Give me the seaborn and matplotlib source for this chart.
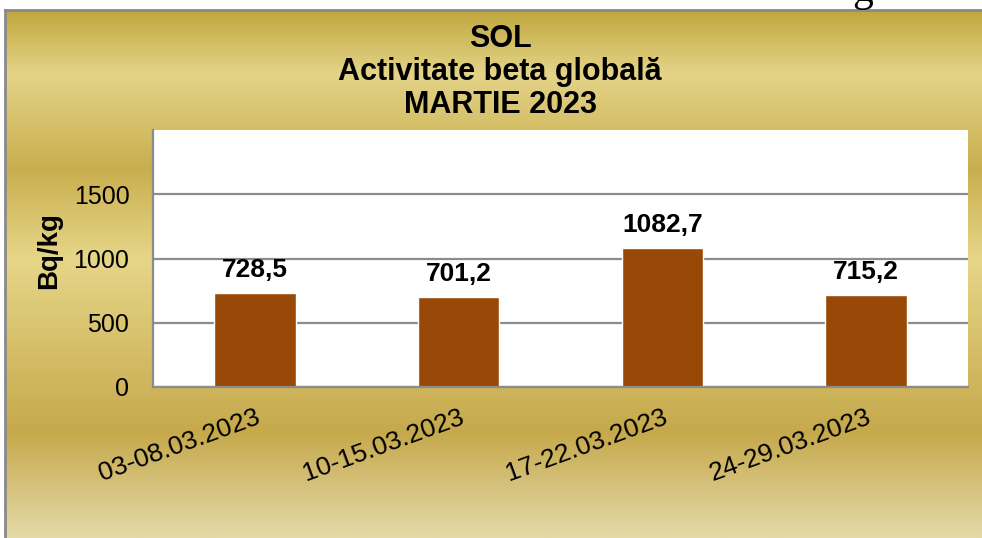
import numpy as np
import matplotlib
matplotlib.use('Agg')
import matplotlib.pyplot as plt
import matplotlib.colors as mcolors
import seaborn as sns

# data
categories = ['03-08.03.2023', '10-15.03.2023', '17-22.03.2023', '24-29.03.2023']
activity = [728.5, 701.2, 1082.7, 715.2]
value_labels = [f'{v:.1f}'.replace('.', ',') for v in activity]
yticks = [0, 500, 1000, 1500]

sns.set_style('white')
plt.rcParams['font.family'] = ['Liberation Sans', 'DejaVu Sans']
plt.rcParams['text.color'] = 'black'
plt.rcParams['xtick.color'] = 'black'
plt.rcParams['ytick.color'] = 'black'
plt.rcParams['axes.labelcolor'] = 'black'

W, H = 982, 538
fig = plt.figure(figsize=(W / 100, H / 100), dpi=100)
fig.patch.set_facecolor('white')

# gold gradient panel
bg = fig.add_axes([5 / W, 0, 1 - 5 / W, 1 - 10 / H], zorder=0)
stops = [(0.0, '#c0a73e'), (0.12, '#e4d488'), (0.30, '#c9ae4f'), (0.47, '#e6d688'),
         (0.80, '#c6a94c'), (1.0, '#e4d9a8')]
cmap = mcolors.LinearSegmentedColormap.from_list('gold', stops)
grad = np.linspace(0, 1, 256).reshape(-1, 1)
bg.imshow(grad, aspect='auto', cmap=cmap, extent=[0, 1, 1, 0])
bg.set_xlim(0, 1)
bg.set_ylim(1, 0)
bg.set_xticks([])
bg.set_yticks([])
for side in ['right', 'bottom']:
    bg.spines[side].set_visible(False)
for side in ['left', 'top']:
    bg.spines[side].set_color('#8a8a8a')
    bg.spines[side].set_linewidth(2)

# stray character cut off at the top
fig.text(863 / W, 1 - 1 / H, 'g', family='Liberation Serif', fontsize=30, va='baseline', ha='center')

ax = fig.add_axes([153 / W, 1 - 387 / H, 815 / W, 257 / H], zorder=2)
ax.set_facecolor('white')
sns.barplot(x=categories, y=activity, color='#984807', saturation=1, width=0.4, ax=ax)
ax.set_ylim(0, 2000)
ax.set_yticks(yticks)
ax.yaxis.grid(True, color='#8c8c8c', linewidth=1.6)
ax.set_axisbelow(True)
for side in ['top', 'right']:
    ax.spines[side].set_visible(False)
for side in ['left', 'bottom']:
    ax.spines[side].set_color('#8c8c8c')
    ax.spines[side].set_linewidth(1.6)

ax.tick_params(axis='y', length=0, pad=17, labelsize=18)
ax.tick_params(axis='x', length=0, pad=13, labelsize=19)
plt.setp(ax.get_xticklabels(), rotation=20, ha='right', va='top', rotation_mode='anchor')

ax.bar_label(ax.containers[0], labels=value_labels, padding=8, fontsize=19, fontweight='bold')

ax.set_xlabel('')
ax.set_ylabel('Bq/kg', fontsize=20, fontweight='bold')
ax.yaxis.set_label_coords(-0.112, 0.53)

fig.text(500 / W, 1 - 24 / H, 'SOL\nActivitate beta globală\nMARTIE 2023', ha='center', va='top',
         fontsize=22, fontweight='bold', linespacing=1.12)

fig.savefig('out.png', dpi=100)
